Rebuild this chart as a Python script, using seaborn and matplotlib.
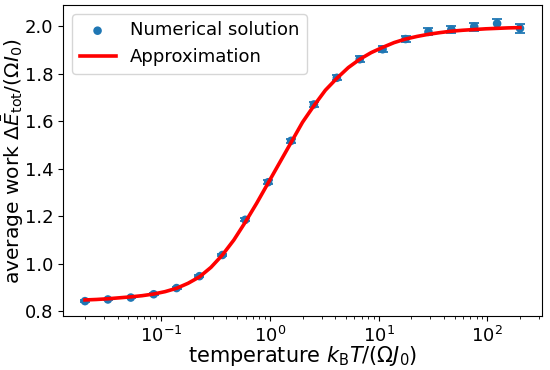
import matplotlib
matplotlib.use("Agg")
import matplotlib.pyplot as plt
import seaborn as sns
import pandas as pd

# temperatures k_B T / (Omega J_0)
temperature = [0.02, 0.03248, 0.05274, 0.08563, 0.1390, 0.2258, 0.3667, 0.5954,
               0.9668, 1.570, 2.549, 4.139, 6.721, 10.91, 17.72, 28.78, 46.73,
               75.87, 123.2, 200.0]
# numerical solution and its error
work_num = [0.843, 0.850, 0.858, 0.872, 0.898, 0.948, 1.037, 1.185, 1.343, 1.517,
            1.670, 1.782, 1.860, 1.902, 1.945, 1.975, 1.985, 1.997, 2.010, 1.990]
work_err = [0.003, 0.003, 0.003, 0.004, 0.004, 0.005, 0.006, 0.007, 0.008, 0.009,
            0.010, 0.011, 0.012, 0.013, 0.014, 0.015, 0.016, 0.017, 0.018, 0.020]

# approximation curve
approx_T = [0.02, 0.02549, 0.03248, 0.04139, 0.05274, 0.06721, 0.08563, 0.1091,
            0.1390, 0.1772, 0.2258, 0.2878, 0.3667, 0.4673, 0.5954, 0.7587,
            0.9668, 1.232, 1.570, 2.000, 2.549, 3.248, 4.139, 5.274, 6.721,
            8.563, 10.91, 13.90, 17.72, 22.58, 28.78, 36.67, 46.73, 59.54,
            75.87, 96.68, 123.2, 157.0, 200.0]
approx_W = [0.848, 0.850, 0.853, 0.857, 0.861, 0.866, 0.873, 0.883,
            0.897, 0.918, 0.945, 0.985, 1.037, 1.100, 1.175, 1.255,
            1.340, 1.425, 1.510, 1.595, 1.665, 1.730, 1.780, 1.825, 1.860,
            1.888, 1.910, 1.930, 1.945, 1.956, 1.965, 1.972, 1.978, 1.982,
            1.985, 1.988, 1.990, 1.992, 1.993]

num_df = pd.DataFrame({"T": temperature, "W": work_num, "err": work_err})
approx_df = pd.DataFrame({"T": approx_T, "W": approx_W})

fig, ax = plt.subplots(figsize=(5.5, 3.7), dpi=100)

ax.errorbar(num_df["T"], num_df["W"], yerr=num_df["err"], fmt="none",
            ecolor="#1f77b4", capsize=3.5, elinewidth=1.3, capthick=1.3)
sns.scatterplot(data=num_df, x="T", y="W", color="#1f77b4", s=38,
                edgecolor="none", label="Numerical solution", ax=ax, zorder=3)
sns.lineplot(data=approx_df, x="T", y="W", color="#ff0000", lw=2.6,
             label="Approximation", ax=ax, zorder=4)

ax.set_xscale("log")
ax.set_yticks([0.8, 1.0, 1.2, 1.4, 1.6, 1.8, 2.0])
ax.tick_params(labelsize=13)
ax.set_xlabel(r"temperature $k_\mathrm{B}T/(\Omega J_0)$", fontsize=15, labelpad=-1)
ax.set_ylabel(r"average work $\Delta\bar{E}_\mathrm{tot}/(\Omega I_0)$", fontsize=14.6,
              labelpad=-1)
ax.legend(loc="upper left", fontsize=13)

plt.subplots_adjust(left=0.115, right=0.985, top=0.986, bottom=0.146)
plt.savefig("out.png")
plt.close()
